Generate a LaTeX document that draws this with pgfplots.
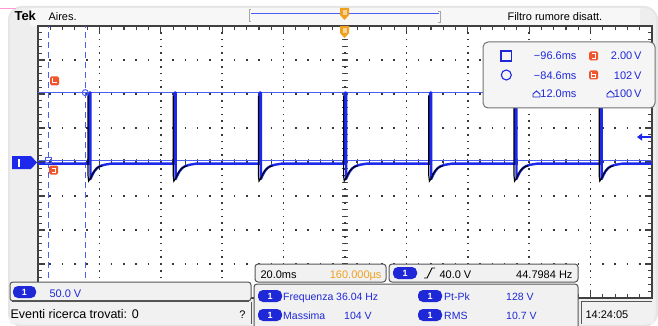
\documentclass[border=0pt]{standalone}
\usepackage{pgfplots}
\pgfplotsset{compat=1.18}
\usepackage{fontspec}
\setmainfont{Liberation Sans}
\usetikzlibrary{arrows.meta}
\definecolor{tblue}{RGB}{28,40,235}
\definecolor{cblue}{RGB}{75,95,240}
\definecolor{txtblue}{RGB}{30,40,215}
\definecolor{torange}{RGB}{240,160,30}
\definecolor{cred}{RGB}{240,85,45}
\definecolor{panel}{RGB}{241,241,241}
\definecolor{winbg}{RGB}{238,238,238}
\definecolor{frm}{RGB}{85,85,85}
\newcommand\pill[3]{\fill[txtblue,rounded corners=5pt] (#1,#2) rectangle ({#1+#3},{#2+12});
  \node[white,font=\fontsize{9}{9}\selectfont\bfseries] at ({#1+#3/2},{#2+6}) {1};}
\begin{document}
\begin{tikzpicture}[x=1pt,y=-1pt,font=\fontsize{11}{13}\selectfont]
\useasboundingbox (0,0) rectangle (658,326);
\fill[white] (0,0) rectangle (658,326);
% window
\fill[black!10,rounded corners=14pt] (8,6) rectangle (658,327);
\fill[winbg,rounded corners=12pt] (10,8) rectangle (656,325);
\fill[white!97!black] (30,8) rectangle (640,26);
\draw[red!35!magenta!40, line width=1pt] (0,9) -- (16,9);
% top bar
\node[anchor=base west,font=\fontsize{13}{13}\selectfont\bfseries] at (11,20.5) {Tek};
\node[anchor=base west] at (45,20.5) {Aires.};
\node[anchor=base west] at (504,20.5) {Filtro rumore disatt.};
\draw[black!35, line width=0.8pt] (251,9) -- (249,9) -- (249,21) -- (251,21);
\draw[black!35, line width=0.8pt] (438,11) -- (440,11) -- (440,22) -- (438,22);
\draw[cblue, line width=1.3pt] (251,13.5) -- (439,13.5);
\fill[torange] (340,8) -- (349,8) -- (349,15) -- (344.5,20) -- (340,15) -- cycle;
\fill[torange!45] (342.5,10.5) rectangle (346.5,15);
% plot area
\fill[white] (38,26) rectangle (652,298);
\foreach \i in {0,...,40} \draw[black!70, line width=1.2pt] (341.8,{26+\i*6.8}) -- (348.2,{26+\i*6.8});
\foreach \i in {0,...,50} \draw[black!70, line width=1.2pt] ({38+\i*12.28},158.8) -- ({38+\i*12.28},165.2);
\begin{scope}[x=1cm,y=1cm]
\begin{axis}[
  at={(38pt,-26pt)}, anchor=north west, scale only axis, width=614pt, height=272pt,
  xmin=-100, xmax=100, ymin=-200, ymax=200,
  xtick={-100,-80,...,100}, ytick={-200,-150,...,200},
  minor x tick num=4, minor y tick num=4,
  xticklabels={}, yticklabels={},
  tick align=inside,
  major tick length=7pt, minor tick length=4pt,
  tick style={black!75, line width=1.1pt},
  axis line style={black!75, line width=1.4pt},
  grid=major,
  x grid style={black!78, line width=1.6pt, dash pattern=on 1.6pt off 5.2pt, dash phase=0.8pt},
  y grid style={black!78, line width=1.6pt, dash pattern=on 1.6pt off 10.68pt, dash phase=0.8pt},
  clip=true,
]
% cursors
\addplot[cblue, line width=1pt] coordinates {(-100,2) (100,2)};
\addplot[cblue, line width=1pt] coordinates {(-100,102) (100,102)};
\addplot[cblue, line width=1.4pt, dash pattern=on 6pt off 4pt] coordinates {(-96.6,-200) (-96.6,200)};
\addplot[cblue, line width=1.4pt, dash pattern=on 6pt off 4pt] coordinates {(-84.6,-200) (-84.6,200)};
% channel 1 trace
\addplot[tblue, line width=2.4pt, line join=round] coordinates {
(-100,-2.5)
(-83.25,-2.5) (-83.25,102) (-82.9,102) (-82.9,-25) (-82.4,-20) (-81.7,-14) (-80.8,-9) (-79.8,-6) (-78.3,-4) (-76.3,-2.5)
(-55.5,-2.5) (-55.5,102) (-55.15,102) (-55.15,-25) (-54.65,-20) (-53.95,-14) (-53.05,-9) (-52.05,-6) (-50.55,-4) (-48.55,-2.5)
(-27.75,-2.5) (-27.75,102) (-27.4,102) (-27.4,-25) (-26.9,-20) (-26.2,-14) (-25.3,-9) (-24.3,-6) (-22.8,-4) (-20.8,-2.5)
(0,-2.5) (0,102) (0.35,102) (0.35,-25) (0.85,-20) (1.55,-14) (2.45,-9) (3.45,-6) (4.95,-4) (6.95,-2.5)
(27.75,-2.5) (27.75,102) (28.1,102) (28.1,-25) (28.6,-20) (29.3,-14) (30.2,-9) (31.2,-6) (32.7,-4) (34.7,-2.5)
(55.5,-2.5) (55.5,102) (55.85,102) (55.85,-25) (56.35,-20) (57.05,-14) (57.95,-9) (58.95,-6) (60.45,-4) (62.45,-2.5)
(83.25,-2.5) (83.25,102) (83.6,102) (83.6,-25) (84.1,-20) (84.8,-14) (85.7,-9) (86.7,-6) (88.2,-4) (90.2,-2.5)
(100,-2.5)};
% reference trace (black)
\addplot[black, line width=1.2pt, unbounded coords=jump] coordinates {
(-83.7,98) (-83.7,-20) (-83.5,-28) (-82.9,-24) (-82.2,-17) (-81.3,-11) (-80.3,-7.5) (-79.1,-5.5) (-79,nan)
(-55.95,98) (-55.95,-20) (-55.75,-28) (-55.15,-24) (-54.45,-17) (-53.55,-11) (-52.55,-7.5) (-51.35,-5.5) (-51,nan)
(-28.2,98) (-28.2,-20) (-28.0,-28) (-27.4,-24) (-26.7,-17) (-25.8,-11) (-24.8,-7.5) (-23.6,-5.5) (-23,nan)
(-0.45,98) (-0.45,-20) (-0.25,-28) (0.35,-24) (1.05,-17) (1.95,-11) (2.95,-7.5) (4.15,-5.5) (5,nan)
(27.3,98) (27.3,-20) (27.5,-28) (28.1,-24) (28.8,-17) (29.7,-11) (30.7,-7.5) (31.9,-5.5) (32,nan)
(55.05,98) (55.05,-20) (55.25,-28) (55.85,-24) (56.55,-17) (57.45,-11) (58.45,-7.5) (59.65,-5.5) (60,nan)
(82.8,98) (82.8,-20) (83.0,-28) (83.6,-24) (84.3,-17) (85.2,-11) (86.2,-7.5) (87.4,-5.5)};
\addplot[cblue, only marks, mark=o, mark size=3pt, line width=1pt, fill=white] coordinates {(-84.6,102)};
\addplot[cblue, only marks, mark=square, mark size=3pt, line width=1pt] coordinates {(-96.6,2)};
\end{axis}
\end{scope}
% trigger position marker on plot
\fill[torange] (340,26) -- (349,26) -- (349,33) -- (344.5,38) -- (340,33) -- cycle;
\fill[torange!45] (342.5,28.5) rectangle (346.5,33);
% ground marker
\fill[tblue] (12,156) -- (31,156) -- (37,162.5) -- (31,169) -- (12,169) -- cycle;
\fill[white] (18,158.5) rectangle (19.8,166.5);
% trigger level arrow
\draw[tblue, line width=1.6pt, -{Triangle[length=5pt,width=7pt]}] (651,137) -- (637,137);
% cursor labels on left
\fill[cred, rounded corners=1.5pt] (50,76.5) rectangle (59,85.5);
\draw[white, line width=1pt] (52.5,78.5) -- (52.5,83) -- (56.5,83);
\fill[cred, rounded corners=1.5pt] (49,165.5) rectangle (58,174.5);
\draw[white, line width=1pt] (51.5,168) -- (55.5,168) -- (55.5,172.5) -- (51.5,172.5);
% cursor readout box
\draw[black!55, fill=white!96!black, rounded corners=5pt, line width=1pt] (483,42) rectangle (655,108);
\draw[txtblue, line width=1.1pt] (501,51) rectangle (511.5,61);
\draw[txtblue, line width=1.1pt] (506.3,75) circle (5);
\node[anchor=base east, txtblue] at (580,60) {−96.6ms};
\node[anchor=base east, txtblue] at (580,79.5) {−84.6ms};
\node[anchor=base east, txtblue] at (580,98) {12.0ms};
\draw[txtblue, line width=0.9pt] (533,97) -- (533,94) -- (536.5,91) -- (540,94) -- (540,97) -- cycle;
\fill[cred, rounded corners=1.5pt] (589,51.5) rectangle (598,60.5);
\draw[white, line width=1pt] (591.5,54) -- (595.5,54) -- (595.5,58.2) -- (591.5,58.2);
\fill[cred, rounded corners=1.5pt] (589,70.5) rectangle (598,79.5);
\draw[white, line width=1pt] (591.5,72.5) -- (591.5,77.3) -- (595.5,77.3) -- (595.5,75) -- (591.5,75);
\node[anchor=base east, txtblue] at (645,60) {2.00\,V};
\node[anchor=base east, txtblue] at (645,79.5) {102\,V};
\node[anchor=base east, txtblue] at (645,98) {100\,V};
\draw[txtblue, line width=0.9pt] (607,97) -- (607,94) -- (610.5,91) -- (614,94) -- (614,97) -- cycle;
% bottom panels
\draw[frm, fill=panel, rounded corners=3pt, line width=1pt] (255,264) rectangle (386,282);
\node[anchor=base west] at (257,278) {20.0ms};
\node[anchor=base east, text=torange] at (385,278) {160.000µs};
\draw[frm, fill=panel, rounded corners=3pt, line width=1pt] (389,264) rectangle (578,282);
\pill{393}{267}{24}
\draw[black, line width=0.9pt] (424,278) -- (427,278) -- (432,268) -- (435,268);
\node[anchor=base west] at (436,278) {40.0 V};
\node[anchor=base east] at (576,278) {44.7984 Hz};
\draw[frm, fill=panel, rounded corners=3pt, line width=1pt] (10,282) rectangle (251,301);
\draw[frm, line width=1.5pt] (12,301) -- (249,301);
\pill{13}{286}{23}
\node[anchor=base west, txtblue] at (46,297) {50.0 V};
\fill[panel] (10,302.5) rectangle (251,324);
\draw[frm, line width=1pt] (251,302) -- (251,324);
\node[anchor=base west, font=\fontsize{12.5}{13}\selectfont] at (7,318.5) {Eventi ricerca trovati: 0};
\node[anchor=base east] at (249,318.5) {?};
\draw[frm, fill=panel, rounded corners=3pt, line width=1pt] (254,284) rectangle (578,330);
\begin{scope}[font=\fontsize{10.5}{12}\selectfont]
\pill{258}{290}{24}
\node[anchor=base west, txtblue, inner sep=1pt] at (282,300) {Frequenza};
\node[anchor=base west, txtblue, inner sep=1pt] at (335,300) {36.04 Hz};
\pill{418}{290}{24}
\node[anchor=base west, txtblue, inner sep=1pt] at (443,300) {Pt-Pk};
\node[anchor=base west, txtblue, inner sep=1pt] at (505,300) {128 V};
\pill{258}{309}{24}
\node[anchor=base west, txtblue, inner sep=1pt] at (282,319) {Massima};
\node[anchor=base west, txtblue, inner sep=1pt] at (343,319) {104 V};
\pill{418}{309}{24}
\node[anchor=base west, txtblue, inner sep=1pt] at (443,319) {RMS};
\node[anchor=base west, txtblue, inner sep=1pt] at (505,319) {10.7 V};
\end{scope}
\fill[panel] (580,300) rectangle (654,324);
\draw[frm, line width=1pt] (581,324) -- (581,301) -- (652,301);
\node[anchor=base west] at (582,318.5) {14:24:05};
\end{tikzpicture}
\end{document}
